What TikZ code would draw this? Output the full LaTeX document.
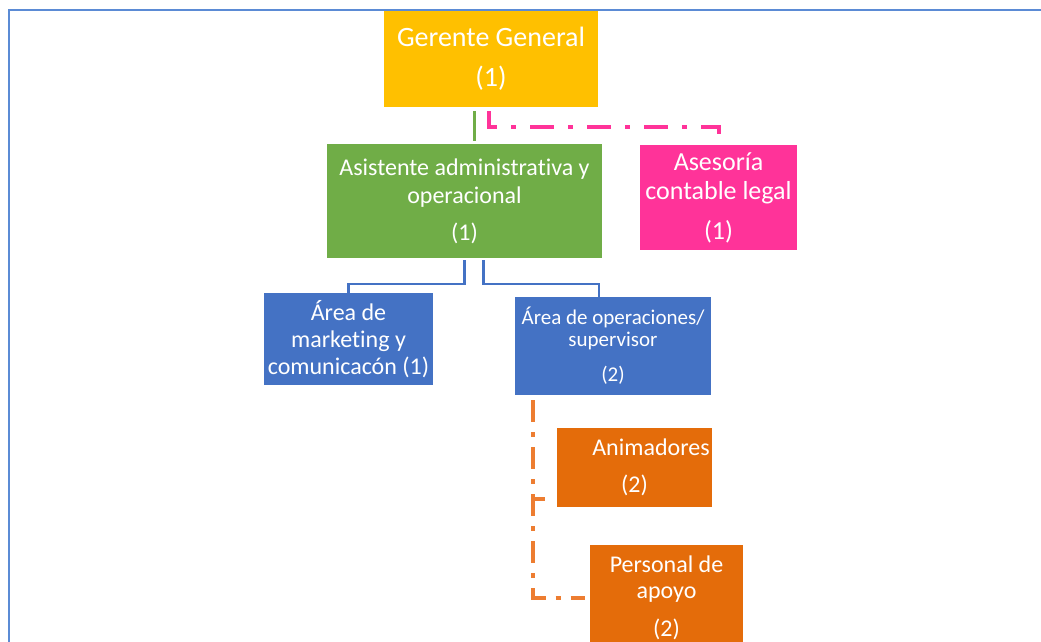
\documentclass[tikz,border=0pt]{standalone}
\usepackage{fontspec}
\setmainfont{Carlito}[Ligatures=NoCommon]
\usepackage{tikz}
\usetikzlibrary{positioning,calc}
\usepackage{xcolor}
\definecolor{oro}{RGB}{255,192,0}
\definecolor{verde}{RGB}{112,173,71}
\definecolor{rosa}{RGB}{255,51,153}
\definecolor{azul}{RGB}{68,114,196}
\definecolor{naranja}{RGB}{228,108,10}
\definecolor{naranjaln}{RGB}{237,125,49}
\definecolor{marco}{RGB}{91,139,213}
\tikzset{
  puesto/.style={anchor=north west,inner sep=0pt,outer sep=0pt,text=white,
    align=center},
  linkv/.style={verde,line width=3pt},
  linka/.style={azul,line width=2.5pt},
  linkr/.style={rosa,line width=4pt,
    dash pattern=on 24pt off 14pt on 5pt off 14pt},
  linkn/.style={naranjaln,line width=4pt,
    dash pattern=on 22pt off 10pt on 5pt off 10pt},
  marcoln/.style={marco,line width=2pt},
}

\begin{document}
\begin{tikzpicture}[x=1pt,y=-1pt]
  \useasboundingbox (0,0) rectangle (1041,641);
  \draw[marcoln] (9,10) rectangle (1070,670);

  % puestos
  \node[puesto,fill=oro,minimum width=214pt,minimum height=96pt,
    font=\fontsize{28}{40}\selectfont] (gg) at (384,11) {Gerente General\\(1)};
  \node[puesto,fill=verde,minimum width=275pt,minimum height=114pt,
    font=\fontsize{24}{28}\selectfont] (asis) at (327,144)
    {Asistente administrativa y\\operacional\\[9pt](1)};
  \node[puesto,fill=rosa,minimum width=157pt,minimum height=105pt,
    font=\fontsize{26}{29}\selectfont] (ases) at (640,145)
    {Asesoría\\contable legal\\[11pt](1)};
  \node[puesto,fill=azul,minimum width=169pt,minimum height=92pt,
    font=\fontsize{24}{27}\selectfont] (mkt) at (264,293)
    {Área de\\marketing y\\comunicacón (1)};
  \node[puesto,fill=azul,minimum width=196pt,minimum height=98pt,
    font=\fontsize{21}{22}\selectfont] (ops) at (515,297)
    {Área de operaciones/\\supervisor\\[13pt](2)};
  \node[puesto,fill=naranja,minimum width=155pt,minimum height=79pt,
    font=\fontsize{24}{37}\selectfont] (anim) at (557,428)
    {\hspace*{33pt}Animadores\\(2)};
  \node[puesto,fill=naranja,minimum width=153pt,minimum height=105pt,
    font=\fontsize{24}{26}\selectfont] (pers) at (590,545)
    {Personal de\\apoyo\\[12pt](2)};

  % conectores
  \draw[linkv] ([xshift=-17pt,yshift=-4pt]gg.south) -- ([xshift=9.5pt,yshift=3pt]asis.north);
  \draw[linkr] ([xshift=-2pt,yshift=-4pt]gg.south) |- ([yshift=18pt]ases.north)
    -- ([yshift=8pt]ases.north);
  \draw[linka] ([yshift=-2pt]asis.south) -- ++(0,-24pt) -| (mkt.north);
  \draw[linka] ([xshift=19pt,yshift=-2pt]asis.south) -- ++(0,-24pt) -| ([xshift=-14pt]ops.north);
  \draw[linkn] ([xshift=18pt,yshift=-5pt]ops.south west) |- ([xshift=-12pt,yshift=8pt]anim.south west);
  \draw[linkn] ([xshift=18pt,yshift=-5pt]ops.south west) |- ([xshift=-5pt]pers.west);
\end{tikzpicture}
\end{document}
